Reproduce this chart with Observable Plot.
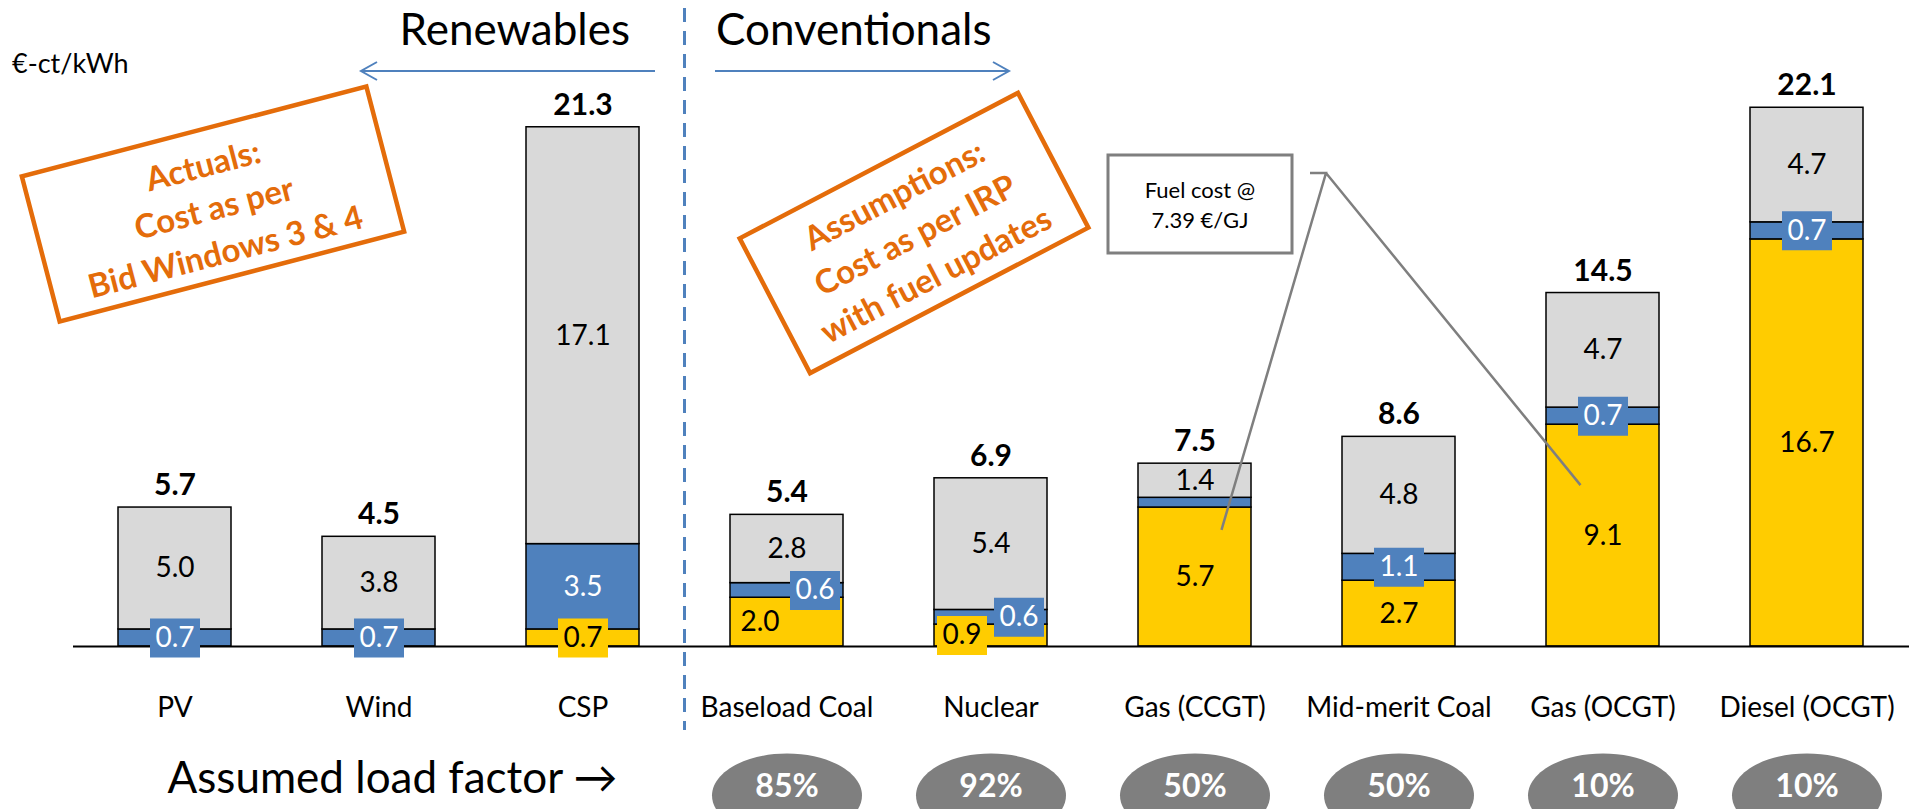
<!DOCTYPE html>
<html><head><meta charset="utf-8">
<script src="https://cdn.jsdelivr.net/npm/d3@7"></script>
<script src="https://cdn.jsdelivr.net/npm/@observablehq/plot@0.6"></script>
<style>
html,body{margin:0;padding:0;background:#fff;overflow:hidden}
svg{display:block}
</style></head><body><div id="chart"></div>
<script>
// ---- data ----
const categories = ["PV","Wind","CSP","Baseload Coal","Nuclear","Gas (CCGT)","Mid-merit Coal","Gas (OCGT)","Diesel (OCGT)"];
const fuelCost    = [0,   0,   0.7, 2.0, 0.9, 5.7, 2.7, 9.1, 16.7];
const omCost      = [0.7, 0.7, 3.5, 0.6, 0.6, 0.4, 1.1, 0.7, 0.7];
const capitalCost = [5.0, 3.8, 17.1,2.8, 5.4, 1.4, 4.8, 4.7, 4.7];
const totals      = [5.7, 4.5, 21.3,5.4, 6.9, 7.5, 8.6, 14.5,22.1];
const loadFactors = [null,null,null,"85%","92%","50%","50%","10%","10%"];
const components = ["Fuel","O&M","Capital"];
const componentColors = ["#FFCC00","#4F81BD","#D9D9D9"];
const unlabeled = ["Gas (CCGT)|O&M"];
const yUnit = "€-ct/kWh";
const leftHeader = "Renewables", rightHeader = "Conventionals";
const box1Lines = ["Actuals:","Cost as per","Bid Windows 3 & 4"];
const box2Lines = ["Assumptions:","Cost as per IRP","with fuel updates"];
const fuelNote = ["Fuel cost @","7.39 €/GJ"];
const lfTitle = "Assumed load factor \u2192";

// label nudges (layout only)
const labelShift = {"Baseload Coal|Fuel": -27, "Baseload Coal|O&M": 28, "Nuclear|Fuel": -29, "Nuclear|O&M": 28};

// ---- tidy tables ----
const series = [fuelCost, omCost, capitalCost];
const rows = [], labels = [];
categories.forEach((cat, i) => {
  let base = 0;
  components.forEach((comp, j) => {
    const v = series[j][i];
    if (v > 0) {
      rows.push({cat, comp, value: v});
      const key = cat + "|" + comp;
      if (!unlabeled.includes(key)) {
        labels.push({cat, comp, mid: base + v / 2, text: v.toFixed(1),
          boxed: comp !== "Capital" && v < 1.5, shift: labelShift[key] || 0});
      }
    }
    base += v;
  });
});
const totalRows = categories.map((cat, i) => ({cat, total: totals[i]}));
const lfRows = categories.map((cat, i) => ({cat, lf: loadFactors[i]})).filter(d => d.lf);

const colorOf = c => componentColors[components.indexOf(c)];
const boxSymbol = {draw(ctx) { ctx.rect(-25, -19.5, 50, 39); }};
const ellipseSymbol = {draw(ctx) {
  const rx = 75, ry = 42, k = 0.5523;
  ctx.moveTo(rx, 0);
  ctx.bezierCurveTo(rx, ry * k, rx * k, ry, 0, ry);
  ctx.bezierCurveTo(-rx * k, ry, -rx, ry * k, -rx, 0);
  ctx.bezierCurveTo(-rx, -ry * k, -rx * k, -ry, 0, -ry);
  ctx.bezierCurveTo(rx * k, -ry, rx, -ry * k, rx, 0);
  ctx.closePath();
}};

const labelMarks = [];
for (const [shift, group] of d3.group(labels, d => d.shift)) {
  const boxed = group.filter(d => d.boxed);
  labelMarks.push(Plot.dot(boxed, {x: "cat", y: "mid", dx: shift, symbol: boxSymbol, fill: d => colorOf(d.comp), stroke: "none"}));
  labelMarks.push(Plot.text(group, {x: "cat", y: "mid", dx: shift, text: "text", fontSize: 28,
    fill: d => d.comp === "O&M" ? "#ffffff" : "#000000"}));
}

const plot = Plot.plot({
  width: 1912, height: 809,
  marginLeft: 73, marginRight: 3, marginTop: 0, marginBottom: 163,
  style: {fontFamily: "Lato, 'Open Sans', sans-serif", background: "#fff", color: "#000"},
  x: {domain: categories, paddingInner: 0.446, paddingOuter: 0.223},
  y: {domain: [0, 26.5], axis: null},
  color: {domain: components, range: componentColors},
  marks: [
    Plot.barY(rows, {x: "cat", y: "value", fill: "comp", stroke: "#000", strokeWidth: 1.5}),
    Plot.ruleY([0], {stroke: "#000", strokeWidth: 2}),
    ...labelMarks,
    Plot.text(totalRows, {x: "cat", y: "total", text: d => d.total.toFixed(1), dy: -22, fontSize: 30, fontWeight: "bold", fill: "#000"}),
    Plot.axisX({tickSize: 0, tickPadding: 51, fontSize: 28, label: null, fill: "#000"}),
    Plot.dot(lfRows, {x: "cat", frameAnchor: "bottom", dy: 149, symbol: ellipseSymbol, fill: "#7F7F7F", stroke: "none"}),
    Plot.text(lfRows, {x: "cat", text: "lf", frameAnchor: "bottom", dy: 150, fill: "#fff", fontWeight: "bold", fontSize: 32}),
    Plot.text([lfTitle], {frameAnchor: "bottom-left", dx: 94, dy: 146, textAnchor: "start", fontSize: 44, fill: "#000"})
  ]
});
document.getElementById("chart").appendChild(plot);

// ---- annotations ----
const xs = plot.scale("x"), ys = plot.scale("y");
const center = c => xs.apply(c) + xs.bandwidth / 2;
const svg = d3.select(plot);
const g = svg.append("g").attr("font-family", "Lato, 'Open Sans', sans-serif");
const blue = "#4F81BD", orange = "#E46C0A", grey = "#7F7F7F";

g.append("text").attr("x", 12).attr("y", 73).attr("font-size", 27).attr("text-anchor", "start").attr("fill", "#000").text(yUnit);
g.append("text").attr("x", 630).attr("y", 45).attr("font-size", 44).attr("text-anchor", "end").attr("fill", "#000").text(leftHeader);
g.append("text").attr("x", 716).attr("y", 45).attr("font-size", 44).attr("text-anchor", "start").attr("fill", "#000").text(rightHeader);

const divX = (xs.apply("CSP") + xs.bandwidth + xs.apply("Baseload Coal")) / 2;
g.append("line").attr("x1", divX).attr("x2", divX).attr("y1", 8).attr("y2", 730)
  .attr("stroke", blue).attr("stroke-width", 3).attr("stroke-dasharray", "14,9");

// arrows
g.append("path").attr("d", "M655,71H361M377,62L361,71L377,80").attr("fill", "none").attr("stroke", blue).attr("stroke-width", 2);
g.append("path").attr("d", "M715,71H1009M993,62L1009,71L993,80").attr("fill", "none").attr("stroke", blue).attr("stroke-width", 2);

function tiltedBox(cx, cy, angle, w, h, lines, offsets) {
  const b = g.append("g").attr("transform", `translate(${cx},${cy}) rotate(${angle})`);
  b.append("rect").attr("x", -w / 2).attr("y", -h / 2).attr("width", w).attr("height", h)
    .attr("fill", "none").attr("stroke", orange).attr("stroke-width", 4.5);
  lines.forEach((t, i) => b.append("text").attr("x", 0).attr("y", offsets[i]).attr("dy", "0.36em")
    .attr("text-anchor", "middle").attr("font-size", 33).attr("font-weight", "bold").attr("fill", orange).text(t));
}
tiltedBox(213, 204, -14.6, 356, 150, box1Lines, [-40, 4, 49]);
tiltedBox(914, 233, -27.6, 314, 152, box2Lines, [-43, 2, 47]);

// fuel cost callout
g.append("rect").attr("x", 1108).attr("y", 155).attr("width", 184).attr("height", 98)
  .attr("fill", "#fff").attr("stroke", grey).attr("stroke-width", 3);
g.append("text").attr("x", 1200).attr("y", 198).attr("text-anchor", "middle").attr("font-size", 22).attr("fill", "#000").text(fuelNote[0]);
g.append("text").attr("x", 1200).attr("y", 228).attr("text-anchor", "middle").attr("font-size", 22).attr("fill", "#000").text(fuelNote[1]);
const apexX = 1326, apexY = 173;
const p1 = [center("Gas (CCGT)") + 27, ys.apply(4.76)];
const p2 = [center("Gas (OCGT)") - 22, ys.apply(6.6)];
g.append("path").attr("d", `M1310,${apexY}H${apexX}L${p1[0]},${p1[1]}M${apexX},${apexY}L${p2[0]},${p2[1]}`)
  .attr("fill", "none").attr("stroke", grey).attr("stroke-width", 2.5);
</script></body></html>
